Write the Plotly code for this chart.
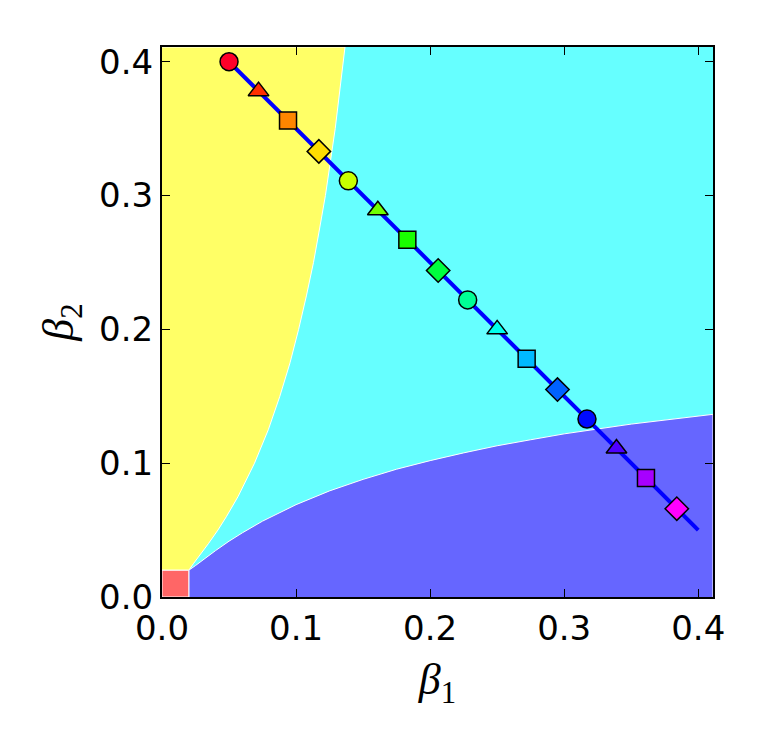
import plotly.graph_objects as go

# Phase boundary (tangential coordinate t, normal coordinate n)
bound_t = [0.020, 0.025, 0.030, 0.035, 0.040, 0.050, 0.060, 0.075, 0.090, 0.100, 0.125, 0.150,
           0.175, 0.200, 0.225, 0.250, 0.275, 0.300, 0.350, 0.400, 0.411]
bound_n = [0.020, 0.0235, 0.0273, 0.031, 0.0347, 0.0417, 0.048, 0.0567, 0.0643, 0.069, 0.0793, 0.0879,
           0.0955, 0.1019, 0.1077, 0.1130, 0.1175, 0.1219, 0.1292, 0.1350, 0.1365]

# Path markers
beta1 = [0.050, 0.072, 0.094, 0.117, 0.139, 0.161, 0.183, 0.206,
         0.228, 0.250, 0.272, 0.295, 0.317, 0.339, 0.361, 0.384]
beta2 = [0.400, 0.378, 0.356, 0.333, 0.311, 0.289, 0.267, 0.244,
         0.222, 0.200, 0.178, 0.155, 0.133, 0.111, 0.089, 0.066]
marker_colors = ["#ff0029", "#ff2e00", "#ff8600", "#ffdd00", "#c9ff00", "#71ff00",
                 "#19ff00", "#00ff3e", "#00ff95", "#00ffec", "#00b9ff", "#0062ff",
                 "#000aff", "#4f00ff", "#a700ff", "#ff00ff"]
marker_symbols = ["circle", "triangle-up", "square", "diamond"] * 4
marker_sizes = [18, 18, 17, 18] * 4

line_b1 = [0.05, 0.40]
line_b2 = [0.40, 0.05]

XMAX = 0.411
YMAX = 0.411

fig = go.Figure()

# Yellow region (left)
yx = [0, 0.02] + bound_n + [0]
yy = [0.02, 0.02] + bound_t + [YMAX]
fig.add_trace(go.Scatter(x=yx, y=yy, fill="toself", mode="lines",
                         fillcolor="#ffff66", line=dict(color="white", width=1),
                         hoverinfo="skip", showlegend=False))
# Blue region (bottom)
bx = [0.02, 0.02] + bound_t + [XMAX]
by = [0, 0.02] + bound_n + [0]
fig.add_trace(go.Scatter(x=bx, y=by, fill="toself", mode="lines",
                         fillcolor="#6666ff", line=dict(color="white", width=1),
                         hoverinfo="skip", showlegend=False))
# Red square
fig.add_trace(go.Scatter(x=[0, 0.02, 0.02, 0, 0], y=[0, 0, 0.02, 0.02, 0], fill="toself",
                         mode="lines", fillcolor="#ff6666", line=dict(color="white", width=1),
                         hoverinfo="skip", showlegend=False))

# Path line
fig.add_trace(go.Scatter(x=line_b1, y=line_b2, mode="lines",
                         line=dict(color="#0000ff", width=4), showlegend=False))
# Markers
fig.add_trace(go.Scatter(x=beta1, y=beta2, mode="markers",
                         marker=dict(color=marker_colors, symbol=marker_symbols, size=marker_sizes,
                                     opacity=1, line=dict(color="black", width=1.5)),
                         showlegend=False))

axis_common = dict(
    showgrid=False, zeroline=False, showline=True, linecolor="black", linewidth=2,
    mirror="ticks", ticks="inside", ticklen=8, tickwidth=1, tickcolor="black",
    tickvals=[0.0, 0.1, 0.2, 0.3, 0.4], ticktext=["0.0", "0.1", "0.2", "0.3", "0.4"],
    tickfont=dict(family="DejaVu Sans", size=34, color="black"),
)

fig.update_layout(
    width=760, height=754,
    margin=dict(l=162, r=47, t=47, b=157),
    paper_bgcolor="white", plot_bgcolor="#66ffff",
    xaxis=dict(range=[0, XMAX], title=dict(text="<i>β</i><sub>1</sub>",
               font=dict(family="Liberation Serif", size=44, color="black"), standoff=16),
               **axis_common),
    yaxis=dict(range=[0, YMAX], title=dict(text="<i>β</i><sub>2</sub>",
               font=dict(family="Liberation Serif", size=44, color="black"), standoff=12),
               **axis_common),
)

fig.write_html("out.html")
